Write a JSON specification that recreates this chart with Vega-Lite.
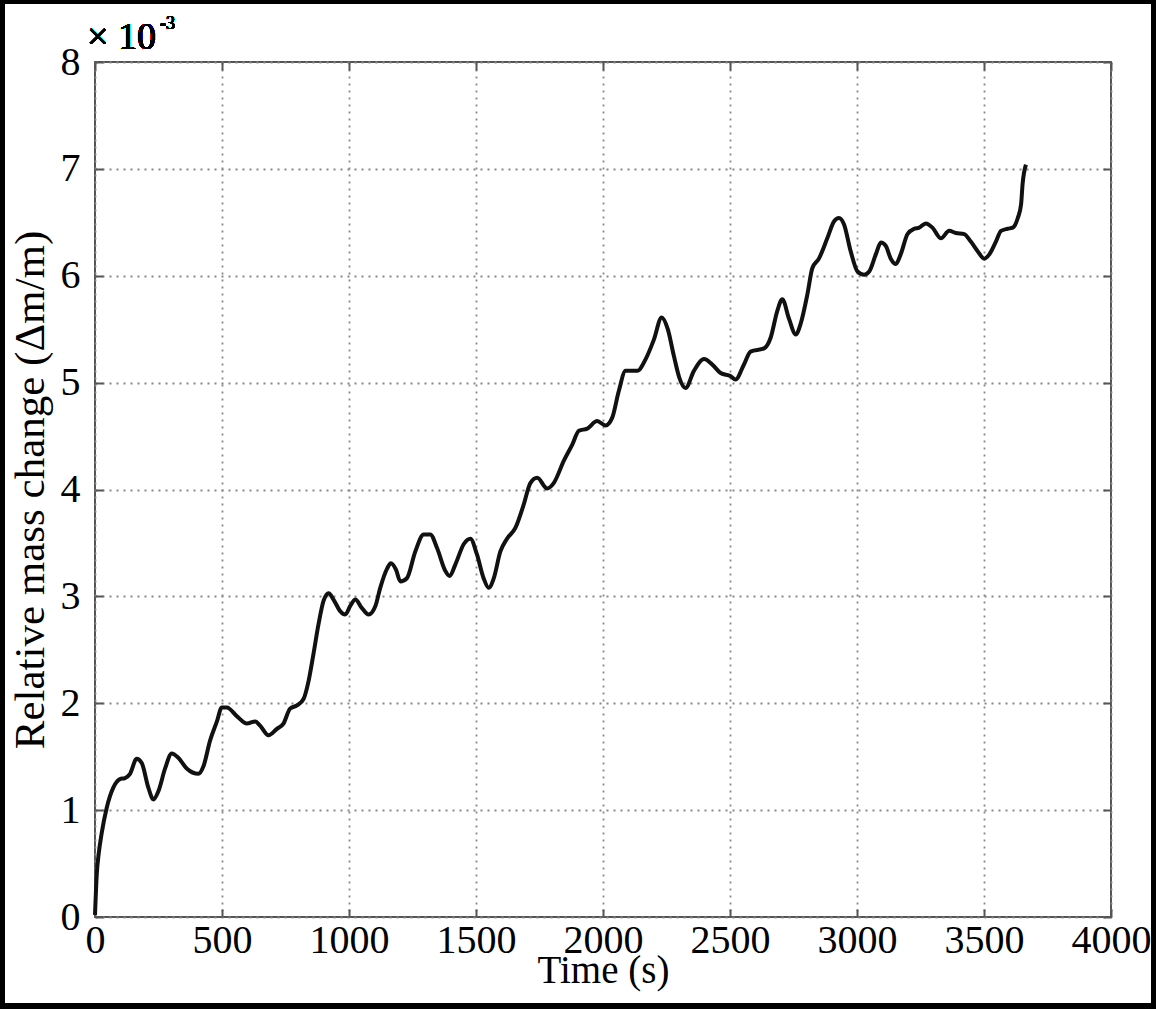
{
  "$schema": "https://vega.github.io/schema/vega-lite/v6.json",
  "width": 1016,
  "height": 855,
  "autosize": {"type": "none"},
  "padding": {"left": 95, "top": 62, "right": 45, "bottom": 92},
  "background": "white",
  "config": {
    "view": {"stroke": "#555555", "strokeWidth": 2},
    "font": "Liberation Serif",
    "axis": {
      "labelFont": "Liberation Serif",
      "labelFontSize": 40,
      "labelColor": "black",
      "titleFont": "Liberation Serif",
      "titleFontSize": 39,
      "titleFontWeight": "normal",
      "titleColor": "black",
      "domain": false,
      "tickColor": "#555555",
      "tickWidth": 2,
      "tickSize": -8,
      "gridColor": "#888888",
      "gridDash": [2, 5],
      "gridWidth": 1.8,
      "gridOpacity": 1
    }
  },
  "data": {
    "values": [
      {"t": 0, "v": 0.02}, {"t": 7, "v": 0.4}, {"t": 15, "v": 0.6}, {"t": 26, "v": 0.78}, {"t": 46, "v": 1.02},
      {"t": 72, "v": 1.21}, {"t": 98, "v": 1.29}, {"t": 118, "v": 1.3}, {"t": 138, "v": 1.34}, {"t": 164, "v": 1.48},
      {"t": 184, "v": 1.44}, {"t": 210, "v": 1.21}, {"t": 230, "v": 1.1}, {"t": 250, "v": 1.18}, {"t": 276, "v": 1.39},
      {"t": 302, "v": 1.53}, {"t": 328, "v": 1.49}, {"t": 361, "v": 1.39}, {"t": 407, "v": 1.34}, {"t": 427, "v": 1.41},
      {"t": 453, "v": 1.65}, {"t": 480, "v": 1.83}, {"t": 499, "v": 1.96}, {"t": 519, "v": 1.96}, {"t": 558, "v": 1.88},
      {"t": 598, "v": 1.81}, {"t": 631, "v": 1.83}, {"t": 650, "v": 1.79}, {"t": 683, "v": 1.7}, {"t": 716, "v": 1.76},
      {"t": 742, "v": 1.81}, {"t": 768, "v": 1.95}, {"t": 795, "v": 1.98}, {"t": 821, "v": 2.04}, {"t": 841, "v": 2.21},
      {"t": 860, "v": 2.46}, {"t": 880, "v": 2.74}, {"t": 900, "v": 2.96}, {"t": 920, "v": 3.03}, {"t": 939, "v": 2.97},
      {"t": 966, "v": 2.86}, {"t": 985, "v": 2.83}, {"t": 1005, "v": 2.91}, {"t": 1025, "v": 2.97}, {"t": 1051, "v": 2.89},
      {"t": 1077, "v": 2.83}, {"t": 1104, "v": 2.91}, {"t": 1123, "v": 3.08}, {"t": 1150, "v": 3.26}, {"t": 1165, "v": 3.31},
      {"t": 1185, "v": 3.25}, {"t": 1202, "v": 3.14}, {"t": 1228, "v": 3.17}, {"t": 1261, "v": 3.42}, {"t": 1294, "v": 3.58},
      {"t": 1320, "v": 3.58}, {"t": 1347, "v": 3.45}, {"t": 1379, "v": 3.24}, {"t": 1396, "v": 3.19}, {"t": 1419, "v": 3.3},
      {"t": 1452, "v": 3.49}, {"t": 1478, "v": 3.54}, {"t": 1504, "v": 3.39}, {"t": 1530, "v": 3.17}, {"t": 1550, "v": 3.08},
      {"t": 1570, "v": 3.17}, {"t": 1596, "v": 3.42}, {"t": 1622, "v": 3.54}, {"t": 1655, "v": 3.64}, {"t": 1688, "v": 3.86},
      {"t": 1714, "v": 4.06}, {"t": 1741, "v": 4.11}, {"t": 1780, "v": 4.01}, {"t": 1806, "v": 4.06}, {"t": 1846, "v": 4.27},
      {"t": 1879, "v": 4.42}, {"t": 1905, "v": 4.55}, {"t": 1938, "v": 4.57}, {"t": 1977, "v": 4.64}, {"t": 2010, "v": 4.6},
      {"t": 2036, "v": 4.67}, {"t": 2062, "v": 4.92}, {"t": 2089, "v": 5.11}, {"t": 2135, "v": 5.11}, {"t": 2168, "v": 5.22},
      {"t": 2200, "v": 5.4}, {"t": 2231, "v": 5.61}, {"t": 2255, "v": 5.5}, {"t": 2279, "v": 5.25}, {"t": 2300, "v": 5.05},
      {"t": 2325, "v": 4.95}, {"t": 2358, "v": 5.11}, {"t": 2398, "v": 5.22}, {"t": 2430, "v": 5.17}, {"t": 2463, "v": 5.09},
      {"t": 2503, "v": 5.06}, {"t": 2522, "v": 5.03}, {"t": 2555, "v": 5.17}, {"t": 2581, "v": 5.29}, {"t": 2634, "v": 5.32},
      {"t": 2660, "v": 5.42}, {"t": 2686, "v": 5.67}, {"t": 2706, "v": 5.78}, {"t": 2732, "v": 5.6}, {"t": 2759, "v": 5.45},
      {"t": 2778, "v": 5.55}, {"t": 2805, "v": 5.83}, {"t": 2824, "v": 6.07}, {"t": 2850, "v": 6.16}, {"t": 2883, "v": 6.35},
      {"t": 2910, "v": 6.51}, {"t": 2929, "v": 6.54}, {"t": 2949, "v": 6.48}, {"t": 2975, "v": 6.23}, {"t": 3002, "v": 6.04},
      {"t": 3028, "v": 6.01}, {"t": 3048, "v": 6.04}, {"t": 3074, "v": 6.2}, {"t": 3094, "v": 6.31}, {"t": 3113, "v": 6.28},
      {"t": 3133, "v": 6.16}, {"t": 3153, "v": 6.11}, {"t": 3172, "v": 6.2}, {"t": 3199, "v": 6.39}, {"t": 3225, "v": 6.44},
      {"t": 3245, "v": 6.45}, {"t": 3271, "v": 6.49}, {"t": 3297, "v": 6.45}, {"t": 3330, "v": 6.35}, {"t": 3363, "v": 6.42},
      {"t": 3389, "v": 6.4}, {"t": 3422, "v": 6.39}, {"t": 3448, "v": 6.32}, {"t": 3475, "v": 6.23}, {"t": 3501, "v": 6.16},
      {"t": 3521, "v": 6.2}, {"t": 3547, "v": 6.32}, {"t": 3567, "v": 6.42}, {"t": 3593, "v": 6.44}, {"t": 3613, "v": 6.45},
      {"t": 3633, "v": 6.54}, {"t": 3646, "v": 6.67}, {"t": 3652, "v": 6.86}, {"t": 3665, "v": 7.04}
    ]
  },
  "resolve": {"axis": {"x": "independent", "y": "independent"}},
  "layer": [
    {
      "mark": {"type": "line", "color": "#111111", "strokeWidth": 4, "interpolate": "monotone"},
      "encoding": {
        "x": {
          "field": "t", "type": "quantitative",
          "scale": {"domain": [0, 4000], "nice": false, "zero": false},
          "axis": {
            "title": "Time (s)", "values": [0, 500, 1000, 1500, 2000, 2500, 3000, 3500, 4000], "format": "d",
            "labelPadding": 11, "titlePadding": -9, "labelFlush": false, "labelOverlap": false,
            "grid": true
          }
        },
        "y": {
          "field": "v", "type": "quantitative",
          "scale": {"domain": [0, 8], "nice": false},
          "axis": {
            "title": "Relative mass change (Δm/m)", "values": [0, 1, 2, 3, 4, 5, 6, 7, 8], "format": "d",
            "labelPadding": 23, "titlePadding": 8, "labelFlush": false, "labelOverlap": false,
            "titleFontSize": 43, "grid": true
          }
        }
      }
    },
    {
      "mark": {"type": "point", "opacity": 0},
      "encoding": {
        "x": {
          "field": "t", "type": "quantitative",
          "axis": {"orient": "top", "labels": false, "title": null, "grid": false,
                   "values": [0, 500, 1000, 1500, 2000, 2500, 3000, 3500, 4000]}
        },
        "y": {
          "field": "v", "type": "quantitative",
          "axis": {"orient": "right", "labels": false, "title": null, "grid": false,
                   "values": [0, 1, 2, 3, 4, 5, 6, 7, 8]}
        }
      }
    },
    {
      "mark": {"type": "text", "text": "× 10", "font": "Liberation Serif", "fontSize": 38, "align": "left", "baseline": "alphabetic", "dx": -8, "dy": -13, "color": "black"},
      "encoding": {
        "x": {"datum": 0, "type": "quantitative", "axis": null},
        "y": {"datum": 8, "type": "quantitative", "axis": null}
      }
    },
    {
      "mark": {"type": "text", "text": "-3", "font": "Liberation Serif", "fontSize": 18, "align": "left", "baseline": "alphabetic", "dx": 65, "dy": -33, "color": "black"},
      "encoding": {
        "x": {"datum": 0, "type": "quantitative", "axis": null},
        "y": {"datum": 8, "type": "quantitative", "axis": null}
      }
    },
    {
      "mark": {"type": "rect", "fill": null, "fillOpacity": 0, "stroke": "black", "strokeWidth": 6},
      "encoding": {
        "x": {"datum": -370, "type": "quantitative", "axis": null},
        "x2": {"datum": 4173},
        "y": {"datum": 8.571, "type": "quantitative", "axis": null},
        "y2": {"datum": -0.833}
      }
    }
  ]
}
